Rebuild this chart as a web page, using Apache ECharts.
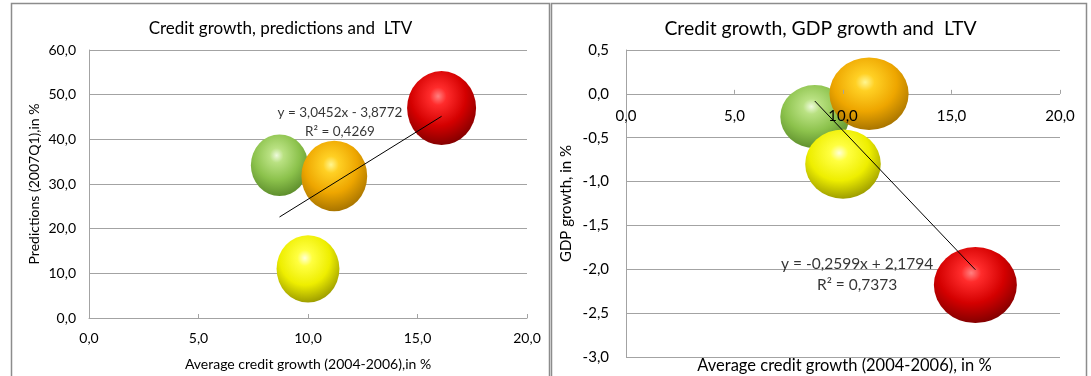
<!DOCTYPE html>
<html><head><meta charset="utf-8">
<script src="https://cdn.jsdelivr.net/npm/echarts@6/dist/echarts.min.js"></script>
<style>html,body{margin:0;padding:0;background:#fff}#c{width:1091px;height:376px}</style>
</head><body><div id="c"></div>
<script>
// ---------- data ----------
const groups = ['Green', 'Yellow', 'Orange', 'Red'];          // LTV groups (bubble colours)
const creditGrowth = [8.7, 10.0, 11.2, 16.1];                   // Average credit growth 2004-2006, %
const predictions = [34.2, 11.0, 31.8, 47.0];                   // Predictions (2007Q1), %
const gdpGrowth = [-0.26, -0.80, 0.0, -2.18];                   // GDP growth, %
const bubbleValue = [69, 83, 91, 100];                          // relative LTV bubble size
const trendSlope = [3.0452, -0.2599];
const trendIntercept = [-3.8772, 2.1794];
const trendR2 = [0.4269, 0.7373];
const xTicks = [0, 5, 10, 15, 20];
const gdpTicks = [-3, 0.5];

// ---------- helpers ----------
const fmt1 = v => v.toFixed(1).replace('.', ',');
const fmt4 = v => v.toFixed(4).replace('.', ',');
const eqText = i => 'y = ' + fmt4(trendSlope[i]) + 'x ' + (trendIntercept[i] < 0 ? '- ' : '+ ') +
  fmt4(Math.abs(trendIntercept[i])) + '\nR² = ' + fmt4(trendR2[i]);
const FONT = 'Lato';
const gridColor = '#a3a3a3';

const sphereStops = {
  Green:  ['#eefadc', '#b9e182', '#8cc24c', '#5a8a2a', '#7cab50'],
  Yellow: ['#ffffd8', '#ffff40', '#eeee00', '#969600', '#c0c000'],
  Orange: ['#fff690', '#ffd024', '#eea600', '#a27000', '#bd8a10'],
  Red:    ['#ff8080', '#ff2c2c', '#d40000', '#7c0000', '#5a0000']
};
function sphere(name) {
  const c = sphereStops[name];
  return {
    type: 'radial', x: 0.45, y: 0.34, r: 0.8,
    colorStops: [
      {offset: 0, color: c[0]}, {offset: 0.15, color: c[1]},
      {offset: 0.5, color: c[2]}, {offset: 0.86, color: c[3]}, {offset: 1, color: c[4]}
    ]
  };
}

const xMin = Math.min(...creditGrowth), xMax = Math.max(...creditGrowth);
function trendData(i) {
  return [[xMin, trendSlope[i] * xMin + trendIntercept[i]], [xMax, trendSlope[i] * xMax + trendIntercept[i]]];
}

function bubbleSeries(gi, yVals, kw, kh) {
  return groups.map((g, i) => ({
    type: 'scatter', xAxisIndex: gi, yAxisIndex: gi, z: 2, silent: true,
    data: [[creditGrowth[i], yVals[i], bubbleValue[i]]],
    symbolSize: d => [kw * Math.sqrt(d[2]), kh * Math.sqrt(d[2])],
    itemStyle: {color: sphere(g), opacity: 1}
  }));
}

const series = [].concat(
  bubbleSeries(0, predictions, 6.9, 7.4),
  bubbleSeries(1, gdpGrowth, 8.3, 7.6),
  [
    {type: 'line', xAxisIndex: 0, yAxisIndex: 0, data: trendData(0), symbol: 'none', z: 6, silent: true,
     lineStyle: {color: '#000', width: 1}},
    {type: 'line', xAxisIndex: 1, yAxisIndex: 1, data: trendData(1), symbol: 'none', z: 6, silent: true,
     lineStyle: {color: '#000', width: 1}},
    {type: 'scatter', xAxisIndex: 0, yAxisIndex: 0, data: [[11.46, 43.9]], symbolSize: 1, z: 7, silent: true,
     itemStyle: {color: 'rgba(0,0,0,0)'},
     label: {show: true, position: 'inside', formatter: () => eqText(0), fontFamily: FONT, fontSize: 13.5,
             lineHeight: 19, color: '#000', align: 'center'}},
    {type: 'scatter', xAxisIndex: 1, yAxisIndex: 1, data: [[10.65, -2.054]], symbolSize: 1, z: 7, silent: true,
     itemStyle: {color: 'rgba(0,0,0,0)'},
     label: {show: true, position: 'inside', formatter: () => eqText(1), fontFamily: FONT, fontSize: 15.5,
             lineHeight: 21, color: '#000', align: 'center'}}
  ]
);

const grid2 = {left: 626, top: 50, width: 434, height: 307};
// distance from the top of the right plot to its value 0 (x axis crossing)
const zeroOffset = grid2.height * (gdpTicks[1] - 0) / (gdpTicks[1] - gdpTicks[0]);

const chart = echarts.init(document.getElementById('c'), null, {renderer: 'canvas'});
chart.setOption({
  animation: false,
  backgroundColor: '#fff',
  textStyle: {fontFamily: FONT, color: '#000'},
  grid: [
    {left: 89, top: 50, width: 438, height: 268},
    grid2
  ],
  xAxis: [
    {gridIndex: 0, type: 'value', min: xTicks[0], max: xTicks[xTicks.length - 1], interval: 5,
     axisLine: {show: true, lineStyle: {color: gridColor}},
     axisTick: {show: true, inside: true, length: 4, lineStyle: {color: gridColor}},
     axisLabel: {formatter: fmt1, margin: 13, fontSize: 14, color: '#000', fontFamily: FONT},
     splitLine: {show: false},
     name: 'Average credit growth (2004-2006),in %', nameLocation: 'middle', nameGap: 39,
     nameTextStyle: {fontSize: 14, color: '#000', fontFamily: FONT}},
    {gridIndex: 1, type: 'value', min: xTicks[0], max: xTicks[xTicks.length - 1], interval: 5, z: 5,
     position: 'top', offset: -zeroOffset,
     axisLine: {show: false, onZero: false},
     axisTick: {show: true, inside: false, length: 4, lineStyle: {color: gridColor}},
     axisLabel: {inside: true, formatter: fmt1, margin: 15, fontSize: 15, color: '#000', fontFamily: FONT},
     splitLine: {show: false}}
  ],
  yAxis: [
    {gridIndex: 0, type: 'value', min: 0, max: 60, interval: 10,
     axisLine: {show: true, lineStyle: {color: gridColor}},
     axisTick: {show: false},
     axisLabel: {formatter: fmt1, margin: 13, fontSize: 14, color: '#000', fontFamily: FONT},
     splitLine: {show: true, lineStyle: {color: gridColor, width: 1}},
     name: 'Predictions (2007Q1),in %', nameLocation: 'middle', nameGap: 48,
     nameTextStyle: {fontSize: 14, color: '#000', fontFamily: FONT}},
    {gridIndex: 1, type: 'value', min: gdpTicks[0], max: gdpTicks[1], interval: 0.5,
     axisLine: {show: true, onZero: false, lineStyle: {color: gridColor}},
     axisTick: {show: false},
     axisLabel: {formatter: fmt1, margin: 17, fontSize: 15, color: '#000', fontFamily: FONT},
     splitLine: {show: true, lineStyle: {color: gridColor, width: 1}},
     name: 'GDP growth, in %', nameLocation: 'middle', nameGap: 52,
     nameTextStyle: {fontSize: 15, color: '#000', fontFamily: FONT}}
  ],
  graphic: [
    {type: 'rect', shape: {x: 11.5, y: 3.5, width: 538, height: 420}, silent: true,
     style: {fill: 'none', stroke: '#8c8c8c', lineWidth: 1.5}},
    {type: 'rect', shape: {x: 551.5, y: 3.5, width: 535, height: 420}, silent: true,
     style: {fill: 'none', stroke: '#8c8c8c', lineWidth: 1.5}},
    {type: 'text', x: 280.5, y: 28.5, silent: true,
     style: {text: 'Credit growth, predictions and  LTV', font: '17px Lato', fill: '#000',
             textAlign: 'center', textVerticalAlign: 'middle'}},
    {type: 'text', x: 820.5, y: 28.5, silent: true,
     style: {text: 'Credit growth, GDP growth and  LTV', font: '19.4px Lato', fill: '#000',
             textAlign: 'center', textVerticalAlign: 'middle'}},
    {type: 'text', x: 844.5, y: 366, silent: true,
     style: {text: 'Average credit growth (2004-2006), in %', font: '16.5px Lato', fill: '#000',
             textAlign: 'center', textVerticalAlign: 'middle'}}
  ],
  series: series
});
</script>
</body></html>
